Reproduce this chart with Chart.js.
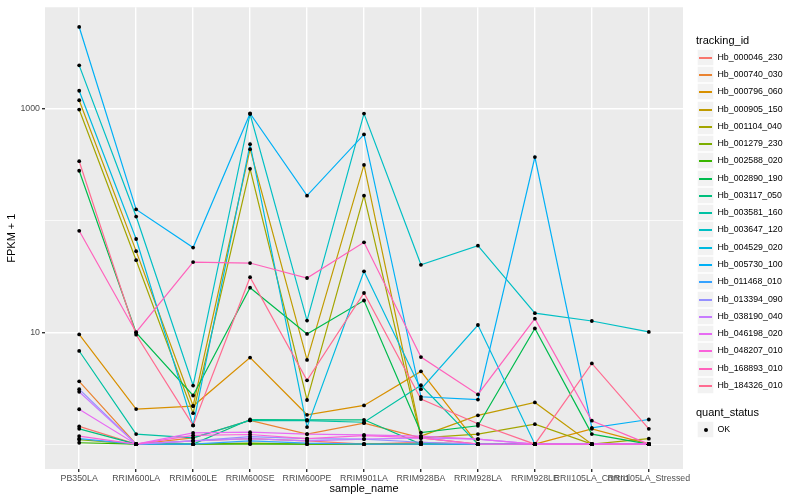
<!DOCTYPE html>
<html>
<head>
<meta charset="utf-8">
<script src="https://cdn.jsdelivr.net/npm/chart.js@4.4.1/dist/chart.umd.min.js"></script>
<style>
html,body{margin:0;padding:0;background:#ffffff;}
#wrap{position:relative;width:800px;height:500px;font-family:"Liberation Sans",Arial,Helvetica,sans-serif;}
#c{position:absolute;left:0;top:0;}
.lg-title{position:absolute;font-size:11px;color:#000;white-space:nowrap;line-height:13px;}
.lg-box{position:absolute;width:17px;height:17px;background:#F2F2F2;box-shadow:inset 0 0 0 0.7px #ffffff;}
.lg-line{position:absolute;left:2px;width:13px;top:8px;height:1.5px;}
.lg-dot{position:absolute;left:6.5px;top:6.5px;width:4px;height:4px;border-radius:2px;background:#000;}
.lg-label{position:absolute;font-size:8.8px;color:#000;white-space:nowrap;line-height:17px;height:17px;}
</style>
</head>
<body>
<div id="wrap">
<canvas id="c" width="800" height="500"></canvas>
<div id="legend"></div>
</div>
<script>
// ---- data ----
const categories = ['PB350LA','RRIM600LA','RRIM600LE','RRIM600SE','RRIM600PE','RRIM901LA','RRIM928BA','RRIM928LA','RRIM928LE','RRII105LA_Control','RRII105LA_Stressed'];

const seriesNames = ['Hb_000046_230','Hb_000740_030','Hb_000796_060','Hb_000905_150','Hb_001104_040','Hb_001279_230','Hb_002588_020','Hb_002890_190','Hb_003117_050','Hb_003581_160','Hb_003647_120','Hb_004529_020','Hb_005730_100','Hb_011468_010','Hb_013394_090','Hb_038190_040','Hb_046198_020','Hb_048207_010','Hb_168893_010','Hb_184326_010'];

const seriesColors = ['#F8766D','#EA8331','#D89000','#C09B00','#A3A500','#7CAE00','#39B600','#00BB4E','#00BF7D','#00C1A3','#00BFC4','#00BAE0','#00B0F6','#35A2FF','#9590FF','#C77CFF','#E76BF3','#FA62DB','#FF62BC','#FF6C91'];

// FPKM + 1 values, one array per tracking_id (same order as categories)
const hb000046_230 = [1.44, 1.0, 1.07, 1.12, 1.07, 1.0, 1.04, 1.0, 1.0, 1.0, 1.0];
const hb000740_030 = [3.64, 1.0, 1.14, 1.63, 1.23, 1.54, 1.14, 1.0, 1.0, 1.0, 1.0];
const hb000796_060 = [9.55, 2.06, 2.19, 5.94, 1.83, 2.22, 4.47, 1.0, 1.0, 1.37, 1.0];
const hb000905_150 = [1180, 53, 2.2, 432, 5.66, 312, 1.18, 1.81, 2.36, 1.0, 1.0];
const hb001104_040 = [975, 44, 1.89, 288, 2.48, 166, 1.14, 1.23, 1.51, 1.0, 1.12];
const hb001279_230 = [1.10, 1.0, 1.0, 1.02, 1.0, 1.0, 1.0, 1.0, 1.0, 1.0, 1.0];
const hb002588_020 = [1.03, 1.0, 1.0, 1.0, 1.0, 1.0, 1.0, 1.0, 1.0, 1.0, 1.0];
const hb002890_190 = [277, 9.9, 2.72, 25, 9.66, 19.2, 1.27, 1.46, 10.8, 1.23, 1.0];
const hb003117_050 = [1.37, 1.0, 1.0, 1.66, 1.65, 1.65, 1.0, 1.0, 1.0, 1.0, 1.0];
const hb003581_160 = [6.8, 1.23, 1.14, 1.63, 1.62, 1.57, 3.36, 1.0, 1.0, 1.0, 1.0];
const hb003647_120 = [2420, 108, 3.34, 890, 12.7, 897, 40, 59.3, 14.8, 12.6, 10.07];
const hb004529_020 = [1435, 68, 1.47, 478, 1.42, 35, 3.1, 11.6, 1.0, 1.0, 1.0];
const hb005730_100 = [5330, 125, 57, 900, 166, 585, 2.65, 2.5, 367, 1.40, 1.66];
const hb011468_010 = [1.12, 1.0, 1.0, 1.07, 1.02, 1.0, 1.0, 1.0, 1.0, 1.0, 1.0];
const hb013394_090 = [3.1, 1.0, 1.07, 1.17, 1.12, 1.11, 1.04, 1.0, 1.0, 1.0, 1.0];
const hb038190_040 = [2.94, 1.0, 1.07, 1.12, 1.07, 1.11, 1.14, 1.11, 1.0, 1.0, 1.0];
const hb046198_020 = [2.05, 1.0, 1.26, 1.28, 1.23, 1.21, 1.18, 1.11, 1.0, 1.0, 1.0];
const hb048207_010 = [1.18, 1.0, 1.20, 1.22, 1.12, 1.19, 1.14, 1.0, 1.0, 1.0, 1.0];
const hb168893_010 = [80.5, 10, 42.3, 41.5, 30.5, 63.5, 6.0, 2.78, 13.2, 1.62, 1.0];
const hb184326_010 = [337, 9.5, 1.47, 31, 3.72, 22.4, 2.53, 1.52, 1.0, 5.26, 1.37];

const seriesValues = [hb000046_230, hb000740_030, hb000796_060, hb000905_150, hb001104_040, hb001279_230, hb002588_020, hb002890_190, hb003117_050, hb003581_160, hb003647_120, hb004529_020, hb005730_100, hb011468_010, hb013394_090, hb038190_040, hb046198_020, hb048207_010, hb168893_010, hb184326_010];

const yTickValues = [1, 10, 100, 1000];
const yTickLabels = {10: '10', 1000: '1000'};
const yMin = 0.644, yMax = 7990;

// ---- chart ----
const FONT = '"Liberation Sans", Arial, Helvetica, sans-serif';
const datasets = [];
const n = seriesNames.length;
seriesNames.forEach((name, i) => {
  datasets.push({
    label: name,
    data: seriesValues[i].map((v, k) => ({x: k, y: v})),
    borderColor: seriesColors[i],
    backgroundColor: seriesColors[i],
    borderWidth: 1.2,
    pointRadius: 0,
    pointHoverRadius: 0,
    tension: 0,
    fill: false,
    order: 1 + (n - i)
  });
});
seriesNames.forEach((name, i) => {
  datasets.push({
    label: name + ' points',
    data: seriesValues[i].map((v, k) => ({x: k, y: v})),
    showLine: false,
    pointRadius: 1.9,
    pointBackgroundColor: '#000000',
    pointBorderWidth: 0,
    pointBorderColor: '#000000',
    order: 0
  });
});

const panelBg = {
  id: 'panelBg',
  beforeDraw(chart) {
    const {ctx, chartArea: a} = chart;
    ctx.save();
    ctx.fillStyle = '#EBEBEB';
    ctx.fillRect(a.left, a.top, a.right - a.left, a.bottom - a.top);
    ctx.restore();
  }
};

new Chart(document.getElementById('c'), {
  type: 'line',
  data: {datasets},
  plugins: [panelBg],
  options: {
    responsive: false,
    animation: false,
    devicePixelRatio: 1,
    layout: {padding: {left: 0, right: 117, top: 5, bottom: 0}},
    plugins: {legend: {display: false}, tooltip: {enabled: false}},
    events: [],
    scales: {
      x: {
        type: 'linear',
        min: -0.6,
        max: categories.length - 1 + 0.6,
        afterBuildTicks: s => { s.ticks = categories.map((c, i) => ({value: i})); },
        afterFit: s => { s.height = 31; },
        ticks: {
          autoSkip: false, maxRotation: 0, minRotation: 0,
          callback: v => categories[v],
          font: {family: FONT, size: 8.8},
          color: '#4D4D4D',
          padding: 1
        },
        grid: {color: '#FFFFFF', lineWidth: 1.4, tickColor: '#333333', tickLength: 3, drawTicks: true},
        border: {display: false},
        title: {display: true, text: 'sample_name', font: {family: FONT, size: 11}, color: '#000000', padding: {top: 0, bottom: 4}}
      },
      y: {
        type: 'logarithmic',
        min: yMin,
        max: yMax,
        afterBuildTicks: s => { s.ticks = yTickValues.map(v => ({value: v})); },
        afterFit: s => { s.width = 45; },
        ticks: {
          autoSkip: false,
          callback: v => (yTickLabels[v] !== undefined ? yTickLabels[v] : ''),
          font: {family: FONT, size: 8.8},
          color: '#4D4D4D',
          padding: 2
        },
        grid: {
          color: '#FFFFFF',
          lineWidth: ctx => (ctx.tick && yTickLabels[ctx.tick.value] !== undefined) ? 1.4 : 0.7,
          tickColor: ctx => (ctx.tick && yTickLabels[ctx.tick.value] !== undefined) ? '#333333' : 'rgba(0,0,0,0)',
          tickLength: 3,
          drawTicks: true
        },
        border: {display: false},
        title: {display: true, text: 'FPKM + 1', font: {family: FONT, size: 11}, color: '#000000', padding: {top: 5, bottom: 0}}
      }
    }
  }
});

// ---- legend (HTML text) ----
const lg = document.getElementById('legend');
function el(cls, style, text) {
  const d = document.createElement('div');
  d.className = cls;
  Object.assign(d.style, style);
  if (text !== undefined) d.textContent = text;
  return d;
}
const keyH = 17.28, keyX = 697, labelX = 717.5, firstKeyCenter = 57.3;
lg.appendChild(el('lg-title', {left: '696px', top: (40 - 6.5) + 'px'}, 'tracking_id'));
seriesNames.forEach((name, i) => {
  const top = Math.round(firstKeyCenter - keyH / 2 + i * keyH);
  const box = el('lg-box', {left: keyX + 'px', top: top + 'px'});
  box.appendChild(el('lg-line', {background: seriesColors[i]}));
  lg.appendChild(box);
  lg.appendChild(el('lg-label', {left: labelX + 'px', top: top + 'px'}, name));
});
lg.appendChild(el('lg-title', {left: '696px', top: (412.3 - 6.5) + 'px'}, 'quant_status'));
const okTop = Math.round(429.3 - keyH / 2);
const okBox = el('lg-box', {left: keyX + 'px', top: okTop + 'px'});
okBox.appendChild(el('lg-dot', {}));
lg.appendChild(okBox);
lg.appendChild(el('lg-label', {left: labelX + 'px', top: okTop + 'px'}, 'OK'));
</script>
</body>
</html>
